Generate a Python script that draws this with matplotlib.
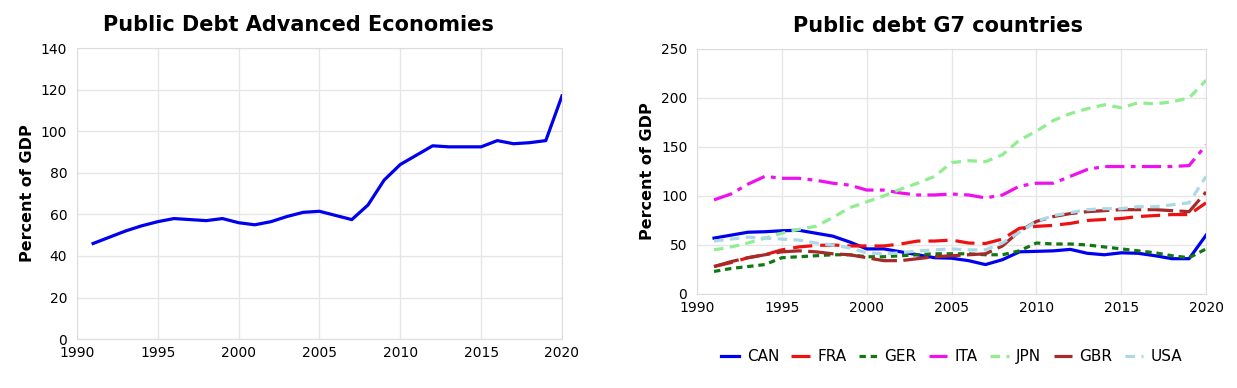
import numpy as np
import matplotlib
matplotlib.use("Agg")
import matplotlib.pyplot as plt

years = np.arange(1991, 2021)

adv = [46, 49, 52, 54.5, 56.5, 58, 57.5, 57, 58, 56, 55, 56.5, 59, 61, 61.5,
       59.5, 57.5, 64.5, 76.5, 84, 88.5, 93, 92.5, 92.5, 92.5, 95.5, 94, 94.5, 95.5, 117]

can = [57, 60, 63, 63.5, 64.5, 65, 62, 59, 53, 46, 46, 43, 40, 37, 36.5,
       34, 30, 35, 43, 43.5, 44, 45.5, 41.5, 40, 42, 41.5, 39, 36, 36, 60]
fra = [28, 32, 37, 40, 45, 48, 49.5, 50, 49, 49, 49, 51, 54, 54, 55,
       52, 51.5, 56, 67, 69, 70, 72, 75, 76, 77, 79, 80, 81, 81, 93]
ger = [23, 26, 28, 30, 37, 38, 39, 40, 40, 38, 38, 39, 40, 41, 41,
       41, 40, 40, 44, 52, 51, 51, 50, 48, 46, 44, 42, 39, 37, 46]
ita = [96, 102, 112, 120, 118, 118, 116, 113, 111, 106, 106, 103, 101, 101, 102,
       101, 98, 101, 110, 113, 113, 120, 127, 130, 130, 130, 130, 130, 131, 152]
jpn = [45, 48, 52, 57, 62, 66, 69, 78, 88, 94, 100, 107, 113, 120, 134,
       136, 135, 142, 157, 166, 177, 184, 189, 193, 190, 195, 194, 196, 200, 218]
gbr = [28, 33, 37, 40, 43, 44, 43, 41, 40, 37, 34, 34, 36, 38, 39,
       40, 41, 49, 64, 74, 79, 82, 84, 85, 86, 86, 86, 85, 84, 104]
usa = [54, 56, 58, 57, 56, 55, 52, 50, 47, 42, 41, 42, 44, 45, 46,
       45, 45, 52, 63, 74, 80, 83, 86, 87, 87, 89, 89, 91, 93, 120]

countries = ["CAN", "FRA", "GER", "ITA", "JPN", "GBR", "USA"]
series = [can, fra, ger, ita, jpn, gbr, usa]
colors = ["#0000ee", "#ee1111", "#117711", "#ee11ee", "#90ee90", "#a52a2a", "#add8e6"]
styles = ["-", (0, (6, 2.5)), (0, (2, 1.5)), (0, (6, 2, 1.5, 2)), (0, (3, 2)),
          (0, (8, 2)), (0, (3, 2))]

plt.rcParams["font.family"] = "DejaVu Sans"
fig = plt.figure(figsize=(12.37, 3.88), dpi=100)

def style_axes(ax, ymax, ystep):
    ax.set_xlim(1990, 2020)
    ax.set_ylim(0, ymax)
    ax.set_xticks(range(1990, 2021, 5))
    ax.set_yticks(range(0, ymax + 1, ystep))
    ax.grid(True, color="#e6e6e6", linewidth=1)
    ax.set_axisbelow(True)
    for s in ax.spines.values():
        s.set_color("#dddddd")
    ax.tick_params(length=0, labelsize=10)
    ax.tick_params(axis="x", pad=5)
    ax.tick_params(axis="y", pad=7)
    ax.set_ylabel("Percent of GDP", fontsize=11.5, fontweight="bold")

ax1 = fig.add_axes([0.0622, 0.126, 0.3921, 0.750])
ax1.plot(years, adv, color="#0000ee", linewidth=2.3)
style_axes(ax1, 140, 20)
ax1.set_title("Public Debt Advanced Economies", fontsize=15, fontweight="bold",
              pad=12, x=0.456)

ax2 = fig.add_axes([0.5635, 0.2423, 0.4115, 0.6317])
for name, vals, c, ls in zip(countries, series, colors, styles):
    ax2.plot(years, vals, color=c, linestyle=ls, linewidth=2.3, label=name)
style_axes(ax2, 250, 50)
ax2.set_title("Public debt G7 countries", fontsize=15, fontweight="bold",
              pad=12, x=0.473)
ax2.legend(loc="upper center", bbox_to_anchor=(0.5, -0.17), ncol=7, frameon=False,
           fontsize=11, handlelength=1.2, columnspacing=0.8, handletextpad=0.5)

fig.savefig("out.png", dpi=100)
